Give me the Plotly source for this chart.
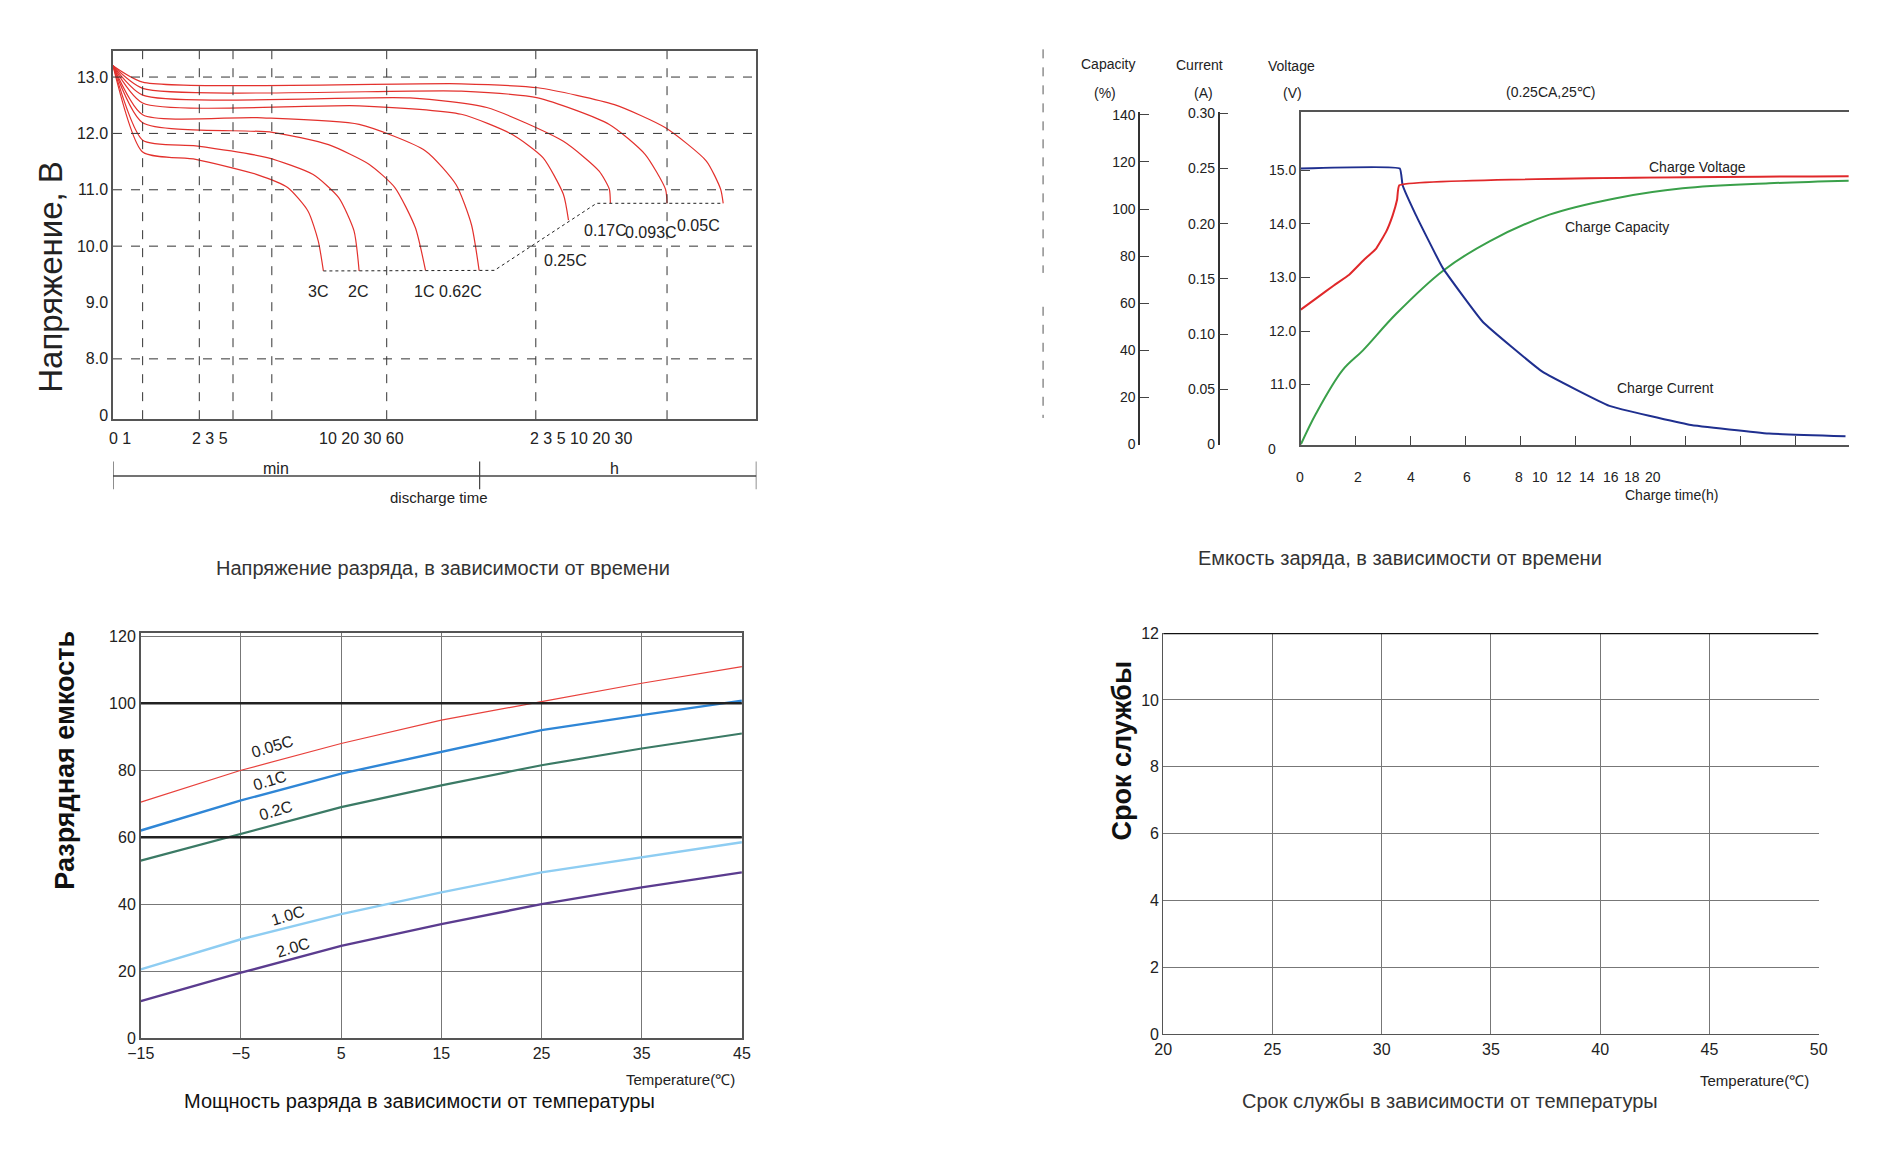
import plotly.graph_objects as go

W, H = 1894, 1170
S = 1894 / 1560.0  # displayed-to-real pixel scale


def px(xd):
    return ((xd - 16.6) / 0.9936) * S / W


def py(yd):
    return 1 - ((yd - 12.4) / 0.990) * S / H


# ---------- panel 1: discharge voltage vs time (x = position on log-time scale) ----------
d_start = (218, 13.2)
d_names = ["0.05C", "0.093C", "0.17C", "0.25C", "0.62C", "1C", "2C", "3C"]
d_x = [
    [276, 900, 1050, 1200, 1300, 1380, 1408, 1413],
    [276, 900, 1050, 1190, 1260, 1300, 1303],
    [276, 800, 950, 1100, 1170, 1190, 1192],
    [276, 700, 900, 1000, 1060, 1100, 1110],
    [276, 500, 700, 830, 890, 920, 935],
    [276, 530, 640, 720, 770, 810, 830],
    [276, 380, 520, 610, 660, 690, 700],
    [276, 380, 500, 560, 600, 620, 630],
]
d_y = [
    [12.91, 12.88, 12.81, 12.51, 12.10, 11.51, 11.01, 10.76],
    [12.80, 12.75, 12.63, 12.16, 11.63, 11.01, 10.76],
    [12.68, 12.63, 12.46, 11.86, 11.33, 11.01, 10.76],
    [12.54, 12.49, 12.34, 11.98, 11.57, 10.92, 10.46],
    [12.33, 12.28, 12.16, 11.69, 11.09, 10.38, 9.57],
    [12.19, 12.02, 11.80, 11.45, 11.04, 10.33, 9.57],
    [11.88, 11.78, 11.57, 11.27, 10.86, 10.27, 9.56],
    [11.67, 11.54, 11.27, 11.04, 10.62, 10.09, 9.56],
]
cut_x = [630, 965, 1165, 1413]
cut_y = [9.56, 9.57, 10.76, 10.76]
d_grid_x = [276, 387, 453, 529, 754, 1046, 1303]
d_grid_y = [13, 12, 11, 10, 8]
d_ytick_vals = [7, 8, 9, 10, 11, 12, 13]
d_ytick_text = ["0", "8.0", "9.0", "10.0", "11.0", "12.0", "13.0"]
d_xlabel_pos = [232, 408, 705, 1135]
d_xlabel_text = ["0 1", "2 3 5", "10 20 30 60", "2 3 5 10 20 30"]
d_lab = [("3C", 620, 9.2), ("2C", 697, 9.2), ("1C", 827, 9.2), ("0.62C", 898, 9.2),
         ("0.25C", 1105, 9.75), ("0.17C", 1182, 10.28), ("0.093C", 1272, 10.25), ("0.05C", 1365, 10.36)]

# ---------- panel 2: charge characteristics (x = tick index units) ----------
cur_x = [0, 1.80, 1.85, 2.09, 2.58, 3.31, 4.39, 5.61, 7.06, 8.51, 9.90]
cur_y = [0.250, 0.250, 0.235, 0.208, 0.160, 0.111, 0.066, 0.035, 0.018, 0.010, 0.0075]
volt_x = [0, 0.28, 0.6, 0.88, 1.15, 1.37, 1.55, 1.67, 1.75, 1.79, 9.96]
volt_y = [12.40, 12.61, 12.85, 13.05, 13.33, 13.54, 13.85, 14.16, 14.45, 14.72, 14.89]
cap_x = [0, 0.28, 0.76, 1.13, 1.73, 2.58, 3.43, 4.52, 5.73, 6.94, 8.51, 9.96]
cap_y = [0, 13.3, 31.6, 40.0, 55.4, 73.7, 86.3, 97.6, 104.6, 108.8, 110.9, 112.0]
ct_labels = ["0", "2", "4", "6", "8", "10", "12", "14", "16", "18", "20"]
ct_label_x = [1075, 1123, 1167, 1214, 1257, 1274, 1294, 1313, 1333, 1350, 1368]

# ---------- panel 3: capacity vs temperature ----------
temps = [-15, -5, 5, 15, 25, 35, 45]
t_names = ["0.05C", "0.1C", "0.2C", "1.0C", "2.0C"]
t_vals = [
    [70.5, 80, 88, 95, 100.5, 106, 111],
    [62, 71, 79, 85.5, 92, 96.5, 100.8],
    [53, 61, 69, 75.5, 81.5, 86.5, 91],
    [20.5, 29.5, 37, 43.5, 49.5, 54, 58.5],
    [11, 19.5, 27.5, 34, 40, 45, 49.5],
]
t_colors = ["#e8413c", "#2f86d6", "#3b7a65", "#8ecdf2", "#5b3c8f"]
t_widths = [1.2, 2.4, 2.2, 2.4, 2.4]
t_lab = [(224, 617), (222, 645), (227, 670), (237, 757), (241, 783)]

# ---------- panel 4: service life (empty grid) ----------
life_x = [20, 25, 30, 35, 40, 45, 50]
life_y = [0, 2, 4, 6, 8, 10, 12]

NARROW = "Liberation Sans Narrow, Liberation Sans, Arial"
SANS = "Liberation Sans, Arial"

fig = go.Figure()
red = "#e3312d"
for xs, ys in zip(d_x, d_y):
    fig.add_trace(go.Scatter(x=[d_start[0]] + xs, y=[d_start[1]] + ys, mode="lines",
                             line=dict(color=red, width=1.2, shape="spline", smoothing=0.6),
                             xaxis="x", yaxis="y", showlegend=False))
fig.add_trace(go.Scatter(x=cut_x, y=cut_y, mode="lines", line=dict(color="#222", width=1, dash="dot"),
                         xaxis="x", yaxis="y", showlegend=False))

fig.add_trace(go.Scatter(x=cap_x, y=cap_y, mode="lines", line=dict(color="#3aa04a", width=2, shape="spline"),
                         xaxis="x2", yaxis="y2", showlegend=False))
fig.add_trace(go.Scatter(x=cur_x, y=cur_y, mode="lines", line=dict(color="#1f2f8f", width=2, shape="spline", smoothing=0.3),
                         xaxis="x2", yaxis="y3", showlegend=False))
fig.add_trace(go.Scatter(x=volt_x, y=volt_y, mode="lines", line=dict(color="#e0282a", width=2, shape="spline", smoothing=0.3),
                         xaxis="x2", yaxis="y4", showlegend=False))

for name, vals, c, w in zip(t_names, t_vals, t_colors, t_widths):
    fig.add_trace(go.Scatter(x=temps, y=vals, mode="lines", line=dict(color=c, width=w),
                             xaxis="x3", yaxis="y5", showlegend=False))

fig.add_trace(go.Scatter(x=life_x, y=[None] * len(life_x), mode="lines", xaxis="x4", yaxis="y6", showlegend=False))

tick_font = dict(family=NARROW, size=16, color="#222")
box = dict(showline=True, linecolor="#555", linewidth=1.5, mirror=True, zeroline=False)
small = dict(family=NARROW, size=14, color="#222")

fig.update_layout(
    width=W, height=H, plot_bgcolor="white", paper_bgcolor="white", margin=dict(l=0, r=0, t=0, b=0),
    xaxis=dict(domain=[px(92), px(625)], range=[218, 1478], showgrid=False, showticklabels=False, ticks="",
               anchor="y", **box),
    yaxis=dict(domain=[py(346), py(41)], range=[6.93, 13.47], tickvals=d_ytick_vals, ticktext=d_ytick_text,
               showgrid=False, ticks="", tickfont=tick_font, anchor="x", **box),
    xaxis2=dict(domain=[px(1076), px(1530)], range=[0, 9.96], tickvals=list(range(10)), ticks="inside",
                ticklen=9, tickcolor="#444", showticklabels=False, showgrid=False, anchor="y4",
                showline=True, linecolor="#555", linewidth=1.5, mirror=True, zeroline=False),
    yaxis2=dict(domain=[py(367), py(92)], range=[0, 141.1], tickvals=list(range(0, 141, 20)), ticks="inside",
                ticklen=9, anchor="free", position=px(942), side="left", showline=True, linecolor="#333",
                linewidth=1.5, showgrid=False, zeroline=False, tickfont=small),
    yaxis3=dict(overlaying="y2", range=[0, 0.301], tickvals=[0, 0.05, 0.10, 0.15, 0.20, 0.25, 0.30],
                ticktext=["0", "0.05", "0.10", "0.15", "0.20", "0.25", "0.30"], ticks="inside", ticklen=9,
                anchor="free", position=px(1008), side="left", showline=True, linecolor="#333", linewidth=1.5,
                showgrid=False, zeroline=False, tickfont=small),
    yaxis4=dict(overlaying="y2", range=[9.88, 16.085], tickvals=[11, 12, 13, 14, 15],
                ticktext=["11.0", "12.0", "13.0", "14.0", "15.0"], ticks="inside", ticklen=9, anchor="x2",
                side="left", showline=True, linecolor="#555", linewidth=1.5, showgrid=False, zeroline=False,
                tickfont=small),
    xaxis3=dict(domain=[px(115), px(613)], range=[-15, 45], tickvals=temps, showgrid=True, gridcolor="#777",
                gridwidth=1.2, anchor="y5", tickfont=tick_font, **box),
    yaxis5=dict(domain=[py(858), py(523)], range=[0, 121], tickvals=list(range(0, 121, 20)), showgrid=True,
                gridcolor="#777", gridwidth=1.2, anchor="x3", tickfont=tick_font, **box),
    xaxis4=dict(domain=[px(962), px(1505)], range=[20, 50], tickvals=life_x, showgrid=True, gridcolor="#777",
                gridwidth=1, anchor="y6", tickfont=tick_font, showline=True, linecolor="#555", zeroline=False),
    yaxis6=dict(domain=[py(855), py(523)], range=[0, 12], tickvals=life_y, showgrid=True, gridcolor="#777",
                gridwidth=1, anchor="x4", tickfont=tick_font, showline=True, linecolor="#555", zeroline=False),
)

shapes = []
for gx in d_grid_x:
    shapes.append(dict(type="line", xref="x", yref="y", x0=gx, x1=gx, y0=6.93, y1=13.47,
                       line=dict(color="#333", width=1, dash="dash")))
for gy in d_grid_y:
    shapes.append(dict(type="line", xref="x", yref="y", x0=218, x1=1478, y0=gy, y1=gy,
                       line=dict(color="#333", width=1, dash="dash")))
# min / h scale under panel 1
shapes.append(dict(type="line", xref="x", yref="paper", x0=218, x1=1478, y0=py(393), y1=py(393),
                   line=dict(color="#444", width=1.5)))
for tx in [218, 936, 1478]:
    shapes.append(dict(type="line", xref="x", yref="paper", x0=tx, x1=tx, y0=py(381), y1=py(404),
                       line=dict(color="#444", width=1.2)))
# dashed separator in panel 2
for y0, y1 in [(40, 225), (253, 345)]:
    shapes.append(dict(type="line", xref="paper", yref="paper", x0=px(862.5), x1=px(862.5), y0=py(y0), y1=py(y1),
                       line=dict(color="#555", width=1, dash="dash")))
# heavy lines panel 3 / 4
for gy in [60, 100]:
    shapes.append(dict(type="line", xref="x3", yref="y5", x0=-15, x1=45, y0=gy, y1=gy, line=dict(color="#222", width=2.5)))
shapes.append(dict(type="line", xref="x4", yref="y6", x0=20, x1=50, y0=12, y1=12, line=dict(color="#111", width=2.5)))
fig.update_layout(shapes=shapes)

ann = []


def txt(x, y, t, size=15, family=NARROW, color="#222", **kw):
    ann.append(dict(x=x, y=y, xref="paper", yref="paper", text=t, showarrow=False, xanchor="center",
                    yanchor="middle", font=dict(family=family, size=size, color=color), **kw))


for pos, t in zip(d_xlabel_pos, d_xlabel_text):
    ann.append(dict(x=pos, y=py(362), xref="x", yref="paper", text=t, showarrow=False,
                    xanchor="center", yanchor="middle", font=tick_font))
for t, lx, ly in d_lab:
    ann.append(dict(x=lx, y=ly, xref="x", yref="y", text=t, showarrow=False, font=dict(family=NARROW, size=16, color="#222")))
ann.append(dict(x=537, y=py(387), xref="x", yref="paper", text="min", showarrow=False,
                xanchor="center", yanchor="middle", font=tick_font))
ann.append(dict(x=1200, y=py(387), xref="x", yref="paper", text="h", showarrow=False,
                xanchor="center", yanchor="middle", font=tick_font))
txt(px(362), py(411), "discharge time", 15)
txt(px(40), py(228), "Напряжение, В", 33, SANS, "#222", textangle=-90)
txt(px(365), py(469), "Напряжение разряда, в зависимости от времени", 20, SANS, "#333")

for t, x, y in [("Capacity", 916, 52), ("(%)", 914, 76), ("Current", 992, 53), ("(A)", 995, 76),
                ("Voltage", 1068, 54), ("(V)", 1069, 76), ("(0.25CA,25℃)", 1283, 75),
                ("Charge Voltage", 1405, 137), ("Charge Capacity", 1338, 187), ("Charge Current", 1378, 320),
                ("0", 1052, 371), ("Charge time(h)", 1383, 409)]:
    txt(px(x), py(y), t, 14)
for t, x in zip(ct_labels, ct_label_x):
    txt(px(x), py(394), t, 14)
txt(px(1158), py(461), "Емкость заряда, в зависимости от времени", 20, SANS, "#333")

for t, (lx, ly) in zip(t_names, t_lab):
    txt(px(lx), py(ly), t, 16, NARROW, "#222", textangle=-17)
txt(px(562), py(892), "Temperature(℃)", 15)
txt(px(346), py(910), "Мощность разряда в зависимости от температуры", 20, SANS, "#111")
txt(px(52), py(628), "<b>Разрядная емкость</b>", 27, SANS, "#111", textangle=-90)

txt(px(1452), py(893), "Temperature(℃)", 15)
txt(px(1200), py(910), "Срок службы в зависимости от температуры", 20, SANS, "#333")
txt(px(928), py(620), "<b>Срок службы</b>", 27, SANS, "#111", textangle=-90)

fig.update_layout(annotations=ann)
fig.write_html("out.html")
